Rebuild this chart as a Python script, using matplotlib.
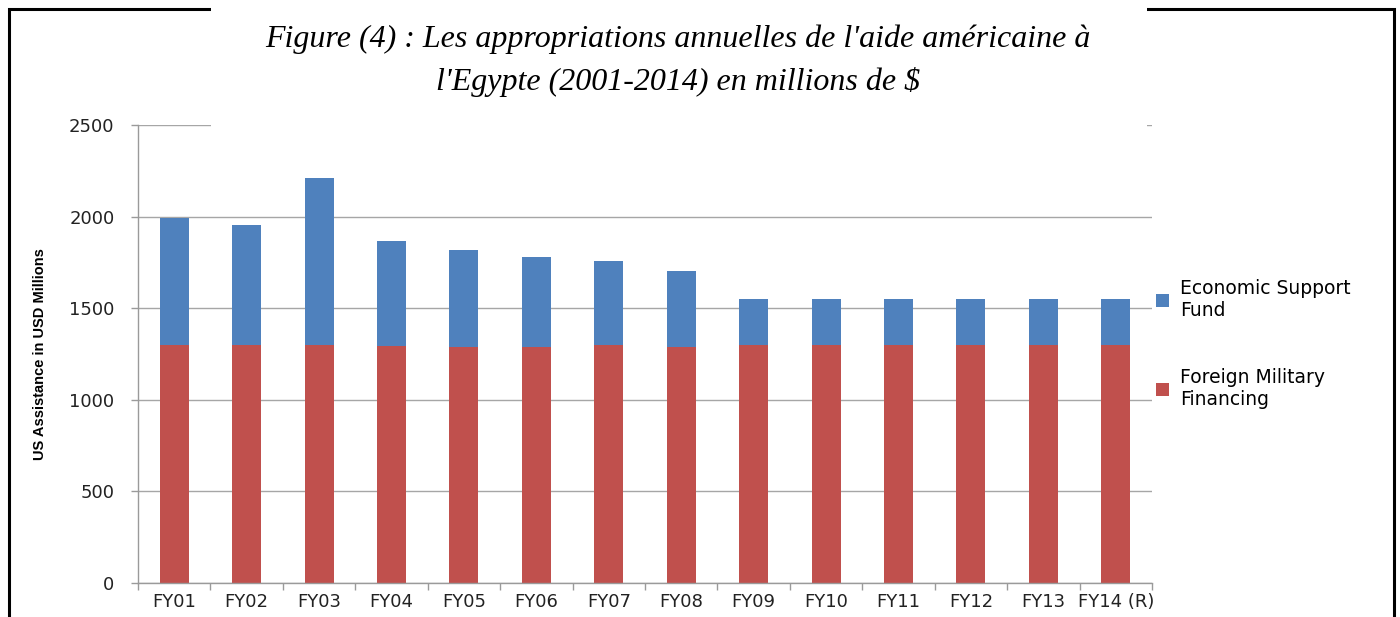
import matplotlib.pyplot as plt
import matplotlib.patches as mpatches
import numpy as np

years = ['FY01', 'FY02', 'FY03', 'FY04', 'FY05', 'FY06', 'FY07',
         'FY08', 'FY09', 'FY10', 'FY11', 'FY12', 'FY13', 'FY14 (R)']
fmf = [1300, 1300, 1300, 1292, 1289.5, 1287, 1300, 1289.5, 1300, 1300, 1300, 1300, 1300, 1300]
esf = [695, 655, 911, 575, 530, 490, 455, 411.6, 250, 250, 250, 250, 250, 250]
y_ticks = [0, 500, 1000, 1500, 2000, 2500]

title = ("Figure (4) : Les appropriations annuelles de l'aide américaine à\n"
         "l'Egypte (2001-2014) en millions de $")

W, H = 1400, 617
fig = plt.figure(figsize=(W / 100, H / 100), dpi=100)
ax = fig.add_axes([138 / W, 1 - 583 / H, (1152 - 138) / W, (583 - 125) / H])

grey = '#9a9a9a'
x = np.arange(len(years))
ax.bar(x, fmf, width=0.4, color='#C0504D', label='Foreign Military\nFinancing', zorder=2)
ax.bar(x, esf, width=0.4, bottom=fmf, color='#4F81BD', label='Economic Support\nFund', zorder=2)

ax.set_xlim(-0.5, len(years) - 0.5)
ax.set_ylim(0, 2500)
ax.set_yticks(y_ticks)
ax.yaxis.grid(True, color='#a6a6a6', linewidth=1, zorder=0)
ax.set_axisbelow(True)

ax.set_xticks(x)
ax.set_xticklabels(years)
ax.set_xticks(np.arange(-0.5, len(years)), minor=True)
ax.tick_params(axis='x', which='major', length=0, pad=7, labelsize=13, labelcolor='#222222')
ax.tick_params(axis='x', which='minor', length=5, color=grey, width=1)
ax.tick_params(axis='y', length=5, color=grey, width=1, pad=12, labelsize=13, labelcolor='#222222')

for s in ['top', 'right']:
    ax.spines[s].set_visible(False)
for s in ['left', 'bottom']:
    ax.spines[s].set_color(grey)
    ax.spines[s].set_linewidth(1)

ax.set_ylabel('US Assistance in USD Millions', family='Liberation Sans',
              fontweight='bold', fontsize=10.5, labelpad=16)

handles, labels = ax.get_legend_handles_labels()
fig.legend(handles[::-1], labels[::-1], loc='upper left',
           bbox_to_anchor=(1156 / W, 1 - 279 / H), frameon=False,
           fontsize=13.5, handlelength=0.7, handleheight=0.7, handletextpad=0.6,
           labelspacing=2.55, borderpad=0, borderaxespad=0)

# outer frame, broken by the title box
fig.patches.append(mpatches.Rectangle((9 / W, -0.05), (1394 - 9) / W, 1 - 9 / H + 0.05,
                                      transform=fig.transFigure, fill=False,
                                      edgecolor='black', linewidth=2.2, zorder=1))
fig.patches.append(mpatches.Rectangle((211 / W, 1 - 127 / H), (1147 - 211) / W, 127 / H,
                                      transform=fig.transFigure, facecolor='white',
                                      edgecolor='none', zorder=2))

fig.text(678 / W, 1 - 61 / H, title, ha='center', va='center', family='Liberation Serif',
         style='italic', fontsize=23, linespacing=1.55, zorder=3)

fig.savefig('out.png', dpi=100)
